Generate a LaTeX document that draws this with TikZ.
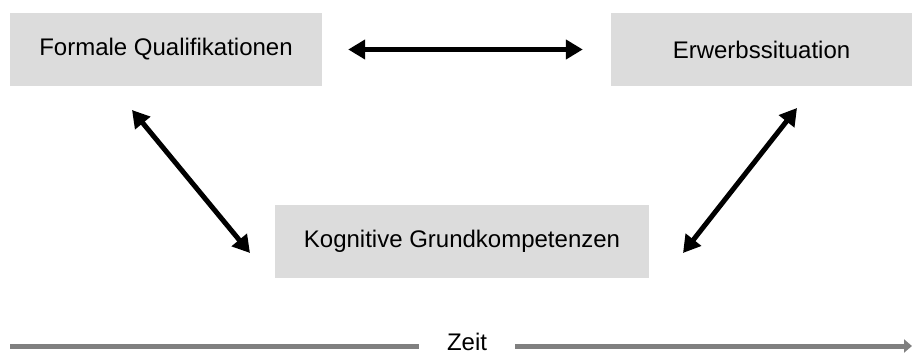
\documentclass[tikz,border=0pt]{standalone}
\usepackage{fontspec}
\setmainfont{Liberation Sans}
\usetikzlibrary{arrows.meta}
\definecolor{boxgray}{HTML}{DCDCDC}
\definecolor{timegray}{HTML}{808080}
\tikzset{
	feld/.style={fill=boxgray,minimum height=73pt,inner sep=0pt},
	pfeil/.style={line width=5pt,{Triangle[length=17pt,width=19pt]}-{Triangle[length=17pt,width=19pt]}},
	zeitpfeil/.style={line width=5pt,color=timegray}
}
\begin{document}
\begin{tikzpicture}[x=1pt,y=-1pt,font=\fontsize{24}{28}\selectfont]
	\useasboundingbox (0,0) rectangle (912,358);

	\node[feld,minimum width=312pt] (qual) at (166,49.5) {Formale Qualifikationen};
	\node[feld,minimum width=301pt] (erwerb) at (761.5,49.5) {Erwerbssituation};
	\node[feld,minimum width=374pt] (kog) at (462,241.5) {Kognitive Grundkompetenzen};

	\coordinate (l1) at (132,110);
	\coordinate (l2) at (250,253);
	\coordinate (r1) at (797,108);
	\coordinate (r2) at (683,253);

	\draw[pfeil,yshift=9.5pt,shorten <=26pt,shorten >=28pt] (qual.east) -- (erwerb.west);
	\draw[pfeil] (l1) -- (l2);
	\draw[pfeil] (r1) -- (r2);

	% Zeitachse
	\node[inner xsep=28pt,inner ysep=0pt] (zeit) at (467,342) {Zeit};
	\coordinate (z0) at (10,346);
	\coordinate (z1) at (912,346);
	\draw[zeitpfeil] (z0) -- (z0 -| zeit.west);
	\draw[zeitpfeil,-{Triangle[length=8pt,width=13pt]}] (z1 -| zeit.east) -- (z1);
\end{tikzpicture}
\end{document}
